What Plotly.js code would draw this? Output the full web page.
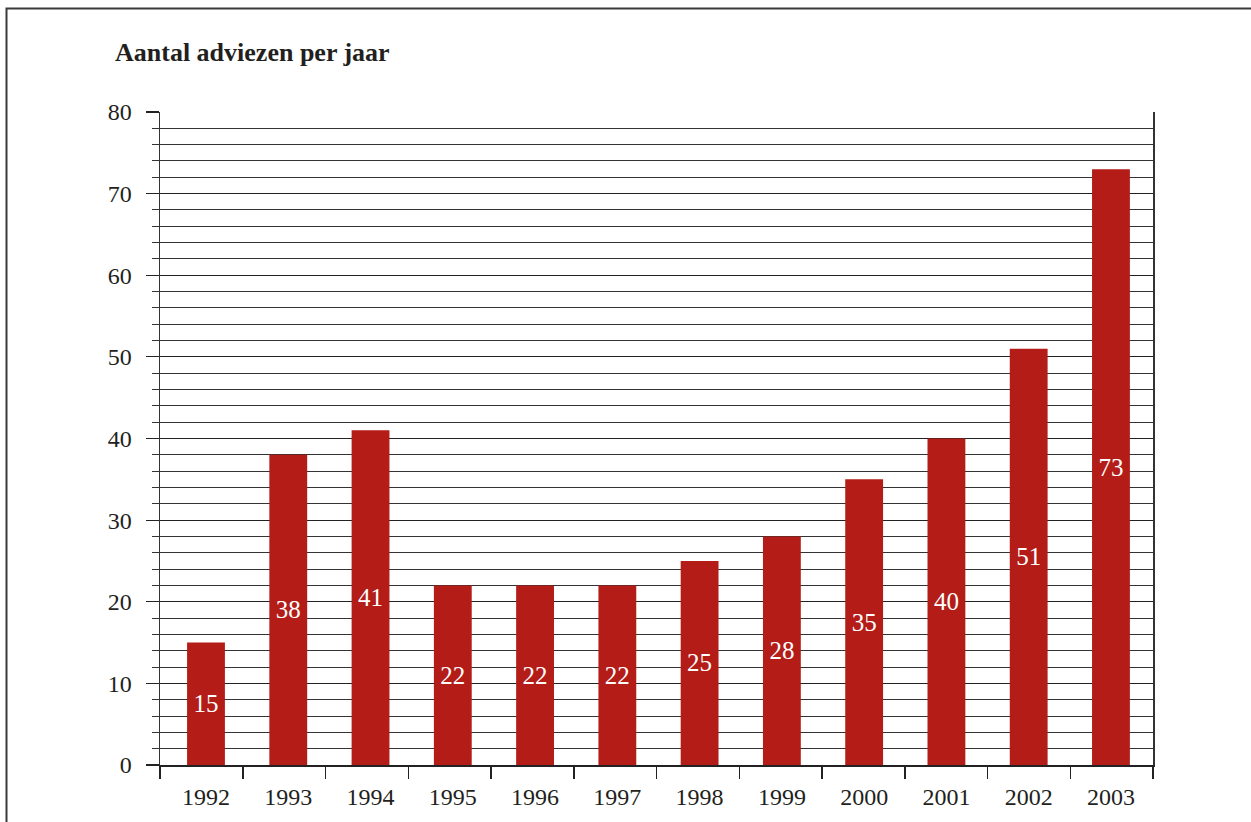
<!DOCTYPE html>
<html>
<head>
<meta charset="utf-8">
<script src="https://cdn.plot.ly/plotly-3.0.1.min.js"></script>
<style>html,body{margin:0;padding:0;background:#fff;}#chart{width:1251px;height:822px;}</style>
</head>
<body>
<div id="chart"></div>
<script>
const years = ['1992','1993','1994','1995','1996','1997','1998','1999','2000','2001','2002','2003'];
const adviezen = [15, 38, 41, 22, 22, 22, 25, 28, 35, 40, 51, 73];
const yTicks = [0, 10, 20, 30, 40, 50, 60, 70, 80];

const L = 160, R = 98, T = 112, B = 57, W = 1251, H = 822;
const pw = W - L - R, ph = H - T - B;
const px = x => (x - L) / pw;
const py = y => (H - B - y) / ph;

const serif = 'Liberation Serif, DejaVu Serif, serif';
const boundaries = years.map((_, i) => i).concat([years.length]);

const bars = {
  type: 'bar',
  x: years,
  y: adviezen,
  marker: {color: '#b31c17', line: {width: 0}},
  text: adviezen.map(String),
  textposition: 'inside',
  insidetextanchor: 'middle',
  textangle: 0,
  constraintext: 'none',
  textfont: {family: serif, size: 25, color: '#ffffff'},
  hoverinfo: 'x+y'
};

// invisible helper trace so the category-boundary tick axis is drawn
const tickHelper = {
  type: 'scatter', mode: 'none',
  x: [boundaries[0], boundaries[boundaries.length - 1]], y: [0, 0],
  xaxis: 'x2', yaxis: 'y', hoverinfo: 'skip', showlegend: false
};

const layout = {
  width: W, height: H,
  margin: {l: L, r: R, t: T, b: B, pad: 0},
  paper_bgcolor: '#ffffff',
  plot_bgcolor: '#ffffff',
  showlegend: false,
  bargap: 0.54,
  title: {
    text: '<b>Aantal adviezen per jaar</b>',
    font: {family: serif, size: 26, color: '#231f20'},
    xref: 'container', yref: 'container',
    x: 115 / W, xanchor: 'left',
    y: 1 - 52 / H, yanchor: 'middle'
  },
  xaxis: {
    type: 'category',
    range: [-0.559, 11.511],
    ticks: '',
    ticklabelstandoff: 9,
    showline: true, linecolor: '#222', linewidth: 2,
    showgrid: false, zeroline: false,
    tickfont: {family: serif, size: 24, color: '#231f20'},
    fixedrange: true
  },
  xaxis2: {
    overlaying: 'x',
    side: 'bottom',
    range: [0, 12],
    tickvals: boundaries,
    showticklabels: false,
    ticks: 'outside', ticklen: 13, tickwidth: 1.5, tickcolor: '#222',
    showline: false, showgrid: false, zeroline: false,
    fixedrange: true
  },
  yaxis: {
    range: [0, 80],
    tickvals: yTicks,
    ticktext: yTicks.map(String),
    ticks: 'outside', ticklen: 13, tickwidth: 1.2, tickcolor: '#222',
    ticklabelstandoff: 9,
    showline: true, mirror: true, linecolor: '#333', linewidth: 1.5,
    showgrid: true, gridcolor: '#222', gridwidth: 1,
    zeroline: false,
    minor: {dtick: 2, ticks: 'outside', ticklen: 7, tickcolor: '#333', tickwidth: 1, showgrid: true, gridcolor: '#333', gridwidth: 1},
    tickfont: {family: serif, size: 24, color: '#231f20'},
    fixedrange: true
  },
  shapes: [
    {
      type: 'path', xref: 'paper', yref: 'paper',
      path: `M ${px(6.5)},${py(830)} L ${px(6.5)},${py(8.5)} L ${px(1260)},${py(8.5)}`,
      line: {color: '#3a3a3a', width: 2}
    }
  ]
};

Plotly.newPlot('chart', [bars, tickHelper], layout, {displayModeBar: false, staticPlot: true});
</script>
</body>
</html>
